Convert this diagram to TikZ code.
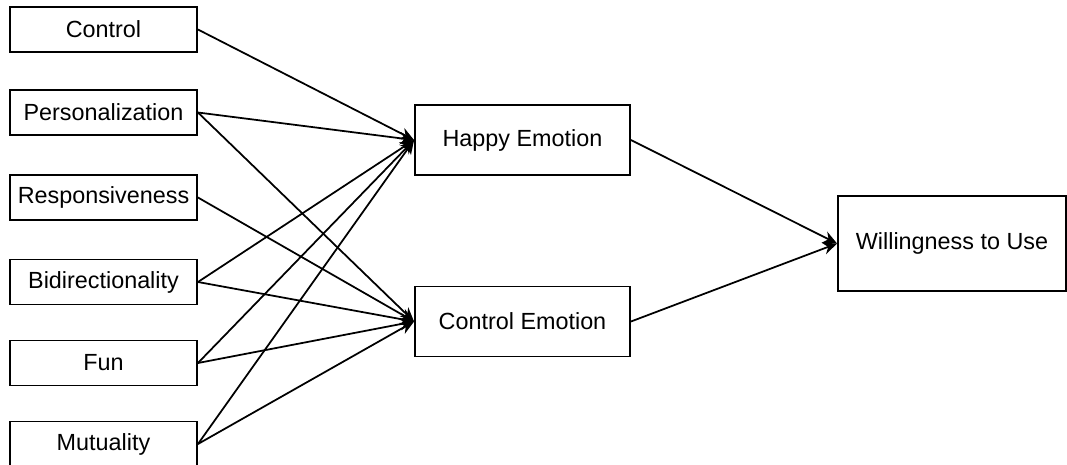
\documentclass[tikz,border=0pt]{standalone}
\usepackage{fontspec}
\setmainfont{Liberation Sans}
\usetikzlibrary{arrows.meta}

\tikzset{
    factor/.style={draw, line width=1.1pt, minimum width=3.74cm, minimum height=0.9cm, inner sep=0pt},
    emotion/.style={draw, line width=1.1pt, minimum width=4.3cm, minimum height=1.4cm, inner sep=0pt},
    outcome/.style={draw, line width=1.1pt, minimum width=4.56cm, minimum height=1.9cm, inner sep=0pt},
    link/.style={line width=1pt, -{Stealth[length=8pt,width=7pt]}}
}

\begin{document}
\begin{tikzpicture}[x=0.02cm, y=-0.02cm, font=\fontsize{13.3}{16}\selectfont]
    \useasboundingbox (0,0) rectangle (1067,464);

    % predictors
    \node[factor] (ctrl) at (103.5,29.5) {Control};
    \node[factor] (pers) at (103.5,112.5) {Personalization};
    \node[factor] (resp) at (103.5,197.5) {Responsiveness};
    \node[factor] (bidi) at (103.5,282) {Bidirectionality};
    \node[factor] (fun) at (103.5,363) {Fun};
    \node[factor] (mutu) at (103.5,444) {Mutuality};

    % mediators
    \node[emotion] (happy) at (522.5,140) {Happy Emotion};
    \node[emotion] (ctrlemo) at (522.5,321.5) {Control Emotion};

    % outcome
    \node[outcome] (will) at (952,243.5) {Willingness to Use};

    \foreach \src in {ctrl,pers,bidi,fun,mutu}{
        \draw[link] (\src.east) -- (happy.west);
    }

    \foreach \src in {pers,resp,bidi,fun,mutu}{
        \draw[link] (\src.east) -- (ctrlemo.west);
    }

    \draw[link] (happy.east) -- (will.west);
    \draw[link] (ctrlemo.east) -- (will.west);

\end{tikzpicture}
\end{document}
